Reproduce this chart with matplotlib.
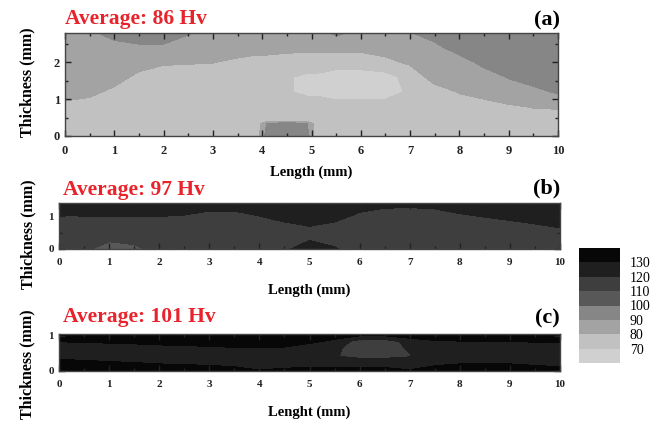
import numpy as np
import matplotlib.pyplot as plt
from matplotlib.colors import ListedColormap, BoundaryNorm
from matplotlib.ticker import MultipleLocator

plt.rcParams['font.family'] = ['Liberation Serif', 'DejaVu Serif']
plt.rcParams['font.weight'] = 'bold'

W, H = 668, 421

# positions along the weld (mm)
x_mm = [0, 0.5, 1, 1.5, 2, 2.5, 3, 3.5, 4, 4.5, 5, 5.5, 6, 6.5, 7, 7.5, 8, 8.5, 9, 9.5, 10]
# panel (a) is sampled a bit denser around the hard spot at the root
x_a = [0, 0.5, 1, 1.5, 2, 2.5, 3, 3.5, 3.9, 4.1, 4.5, 4.9, 5.1, 5.5, 6, 6.5, 7, 7.5, 8, 8.5, 9, 9.5, 10]

# hardness maps (Hv): one list per x position, values from bottom to top
y_a = [0, 0.34, 0.42, 0.8, 1.2, 1.6, 2.0, 2.4, 2.8]
hv_a = [
    [75, 75, 75, 77.6, 84, 86, 87, 88, 88.5],
    [75, 75, 75, 76, 82.4, 85, 87, 88, 89],
    [75, 75, 75, 75, 77.8, 84, 86, 88, 92],
    [75, 75, 75, 75, 75, 77.6, 84, 88.7, 94],
    [75, 75, 75, 75, 75, 76, 81, 88.7, 94],
    [75, 75, 75, 75, 75, 76, 80.6, 86, 90.6],
    [75, 75, 75, 75, 75, 76, 80.2, 85, 88],
    [75, 75, 75, 75, 75, 75, 78.3, 84, 87],
    [75, 75, 75, 75, 75, 75, 76, 84, 87],
    [95, 91, 75, 75, 75, 75, 76, 84, 87],
    [96, 95, 75, 75, 71, 71, 76, 82.4, 86],
    [95, 91, 75, 75, 68, 68, 76, 81.9, 86],
    [75, 75, 75, 75, 68, 68, 76, 81.9, 86],
    [75, 75, 75, 75, 64, 64, 76, 81.9, 92],
    [75, 75, 75, 75, 64, 64, 76, 81.9, 87],
    [75, 75, 75, 75, 65, 66, 77.6, 84, 88],
    [75, 75, 75, 75, 72, 74, 81.5, 86, 89.5],
    [75, 75, 75, 75, 76, 84, 86, 87.6, 94],
    [75, 75, 75, 76, 80.6, 84, 86, 94, 96],
    [75, 75, 75, 76, 84, 86, 92.4, 95, 97],
    [75, 75, 75, 79, 86, 90.5, 94, 96, 97],
    [75, 76, 76, 80.5, 87.6, 94, 96, 97, 97],
    [75, 76, 76, 81, 91.3, 94, 96, 97, 97],
]

y_b = [0, 0.35, 0.7, 1.05, 1.4]
hv_b = [
    [115, 115, 115, 120.6, 125],
    [113, 115, 115, 120.8, 125],
    [104, 113.5, 115, 121, 125],
    [107, 115, 115, 121.2, 125],
    [115, 115, 115, 121, 125],
    [115, 115, 115, 120.3, 125],
    [115, 115, 115, 118, 125],
    [115, 115, 115, 118, 125],
    [115, 115, 115, 120.8, 125],
    [118, 115, 117.4, 125, 126],
    [126, 118, 120.2, 125, 126],
    [121, 116, 117.4, 125, 126],
    [115, 115, 115, 118.8, 125],
    [115, 115, 115, 115, 124.2],
    [115, 115, 115, 115, 123.3],
    [115, 115, 115, 115.4, 125],
    [115, 115, 115, 119.6, 125],
    [115, 115, 115, 121.5, 125],
    [115, 115, 115.4, 125, 125],
    [115, 115, 118.9, 125, 125],
    [115, 115, 121, 125, 125],
]

y_c = [0, 0.21, 0.42, 0.63, 0.84, 1.05]
hv_c = [
    [135, 135, 126.3, 125, 130.3, 136],
    [135, 133.8, 125, 125, 130.8, 136],
    [135, 132, 125, 125, 131.6, 136],
    [135, 130.8, 125, 125, 132.5, 136],
    [135, 129.8, 125, 125, 134.5, 136],
    [135, 129.2, 125, 126.3, 135, 136],
    [135, 128.4, 125, 127.5, 135, 136],
    [135, 126.3, 125, 128.8, 135, 136],
    [130.8, 125, 125, 129.4, 135, 136],
    [133.1, 125, 125, 128.4, 135, 136],
    [134.5, 125, 125, 125, 132, 136],
    [134.5, 125, 120.5, 122, 128, 135],
    [135, 125, 118, 115, 115, 135],
    [134.5, 125, 118, 115, 115, 135],
    [131, 125, 119.5, 121, 124, 138],
    [135, 128, 125, 125, 129.2, 135],
    [135, 129.8, 125, 125, 129.8, 135],
    [135, 130.3, 125, 125, 130.2, 136],
    [135, 129.8, 125, 125, 130.3, 136],
    [135, 128.4, 125, 125, 130.5, 136],
    [135, 126.3, 125, 125, 131.2, 136],
]

averages = ['Average: 86 Hv', 'Average: 97 Hv', 'Average: 101 Hv']
tags = ['(a)', '(b)', '(c)']
xlabels = ['Length (mm)', 'Length (mm)', 'Lenght (mm)']

levels = [60, 70, 80, 90, 100, 110, 120, 130, 140]
band_colors = ['#d0d0d0', '#c1c1c1', '#a3a3a3', '#868686',
               '#585858', '#3e3e3e', '#1f1f1f', '#070707']
cmap = ListedColormap(band_colors)
norm = BoundaryNorm(levels, cmap.N)


def px_box(l, t, r, b):
    return [l / W, 1 - b / H, (r - l) / W, (b - t) / H]


fig = plt.figure(figsize=(W / 100, H / 100), dpi=100)

boxes = [px_box(65, 33, 558, 136), px_box(59, 203, 560, 249), px_box(59, 334, 560, 371)]
ymax = [2.8, 1.4, 1.05]
fields = [(x_a, y_a, hv_a), (x_mm, y_b, hv_b), (x_mm, y_c, hv_c)]
tick_size = [9, 8, 8]
xlab_pad = [6, 12, 12]
# text anchors in pixels: average label, panel tag, y label centre
avg_xy = [(65, 19), (63, 190), (63, 317)]
tag_xy = [(560, 20), (560, 188), (560, 318)]
ylab_xy = [(27, 82), (28, 234), (27, 364)]

cs = None
for i in range(3):
    ax = fig.add_axes(boxes[i])
    xx, yy, hv = fields[i]
    cs = ax.contourf(xx, yy, np.array(hv).T, levels=levels, cmap=cmap, norm=norm)
    ax.set_xlim(0, 10)
    ax.set_ylim(0, ymax[i])
    ax.set_xticks(range(0, 11))
    ax.set_yticks([0, 1, 2] if i == 0 else [0, 1])
    ax.xaxis.set_minor_locator(MultipleLocator(0.5))
    ax.yaxis.set_minor_locator(MultipleLocator(0.5))
    ax.tick_params(which='both', direction='in', top=True, right=True,
                   colors='#222222', labelsize=tick_size[i], width=1)
    ax.tick_params(which='major', length=4)
    ax.tick_params(which='minor', length=2.5)
    ax.tick_params(axis='x', pad=6.5)
    for s in ax.spines.values():
        s.set_color('#444444')
        s.set_linewidth(1)
    ax.set_xlabel(xlabels[i], fontsize=10.5, fontweight='bold', labelpad=xlab_pad[i])

    fig.text(avg_xy[i][0] / W, 1 - avg_xy[i][1] / H, averages[i], color='#e8232b',
             fontsize=15.5, fontweight='bold', ha='left', va='center')
    fig.text(tag_xy[i][0] / W, 1 - tag_xy[i][1] / H, tags[i], color='black',
             fontsize=16, fontweight='bold', ha='right', va='center')
    fig.text(ylab_xy[i][0] / W, 1 - ylab_xy[i][1] / H, 'Thickness (mm)', rotation=90,
             fontsize=11.5, fontweight='bold', ha='center', va='center')

cax = fig.add_axes(px_box(579, 248, 620, 363))
cb = fig.colorbar(cs, cax=cax, ticks=levels[1:-1])
cb.outline.set_visible(False)
cax.minorticks_off()
cax.tick_params(which='both', length=0, labelsize=10, pad=7)
for t in cax.get_yticklabels():
    t.set_fontweight('normal')

fig.savefig('out.png', dpi=100)
